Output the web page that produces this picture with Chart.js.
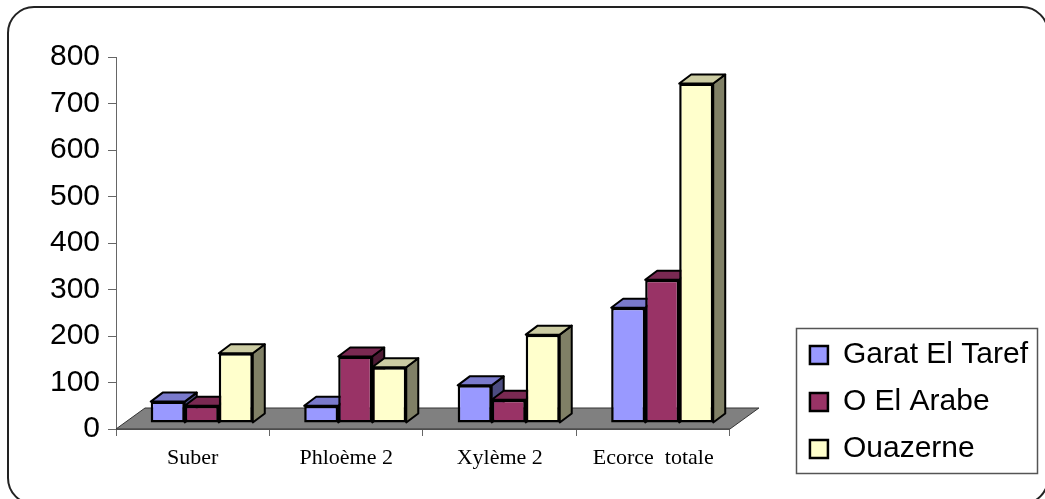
<!DOCTYPE html>
<html>
<head>
<meta charset="utf-8">
<script src="https://cdn.jsdelivr.net/npm/chart.js@4.4.1/dist/chart.umd.min.js"></script>
<style>
  html, body { margin: 0; padding: 0; background: #ffffff; }
  canvas { display: block; }
</style>
</head>
<body>
<canvas id="chart" width="1045" height="499"></canvas>
<script>
// Tissue categories and the three sampling sites
const categories = ['Suber', 'Phloème 2', 'Xylème 2', 'Ecorce  totale'];
const seriesNames = ['Garat El Taref', 'O El Arabe', 'Ouazerne'];
const garatElTaref = [46, 37, 81, 248];
const oElArabe = [37, 143, 50, 308];
const ouazerne = [150, 120, 190, 730];
const valueMin = 0;
const valueMax = 800;
const valueStep = 100;

// Face colours: front, lit top, shaded side
const frontColors = ['#9999FF', '#993366', '#FFFFCC'];
const topColors = ['#7A7ACC', '#7A2952', '#CCCCA3'];
const sideColors = ['#4C4C80', '#4D1A33', '#808066'];

// Oblique projection used for the 3D look
const FLOOR_DX = 29, FLOOR_DY = 21;   // depth of the floor
const BAR_DX = 12, BAR_DY = 9;        // depth of each column
const BAR_SHIFT = 9, BAR_LIFT = 6;    // columns stand mid-depth on the floor

function polygon(ctx, pts, fill) {
  ctx.beginPath();
  ctx.moveTo(pts[0][0], pts[0][1]);
  for (let i = 1; i < pts.length; i++) ctx.lineTo(pts[i][0], pts[i][1]);
  ctx.closePath();
  ctx.fillStyle = fill;
  ctx.fill();
  ctx.stroke();
}

const frame = {
  id: 'frame',
  afterDraw(chart) {
    const ctx = chart.ctx;
    ctx.save();
    ctx.strokeStyle = '#222';
    ctx.lineWidth = 2;
    ctx.beginPath();
    ctx.roundRect(8, 7, 1040, 497, 26);
    ctx.stroke();
    // border round the legend
    const hb = chart.legend.legendHitBoxes;
    if (hb && hb.length) {
      const l = Math.min(...hb.map(h => h.left)) - 14;
      const t = Math.min(...hb.map(h => h.top)) - 12;
      const r = Math.max(...hb.map(h => h.left + h.width)) + 9;
      const b = Math.max(...hb.map(h => h.top + h.height)) + 9;
      ctx.strokeStyle = '#555';
      ctx.lineWidth = 1.5;
      ctx.strokeRect(Math.round(l) + 0.5, Math.round(t) + 0.5, Math.round(r - l), Math.round(b - t));
    }
    ctx.restore();
  }
};

const depth3d = {
  id: 'depth3d',
  beforeDatasetsDraw(chart) {
    const { ctx, chartArea: a } = chart;
    ctx.save();
    ctx.lineWidth = 1;
    ctx.strokeStyle = '#333';
    polygon(ctx, [
      [a.left, a.bottom], [a.right, a.bottom],
      [a.right + FLOOR_DX, a.bottom - FLOOR_DY], [a.left + FLOOR_DX, a.bottom - FLOOR_DY]
    ], '#808080');
    ctx.restore();

    ctx.save();
    ctx.translate(BAR_SHIFT, -BAR_LIFT);
    ctx.lineWidth = 2;
    ctx.strokeStyle = '#000';
    ctx.lineJoin = 'round';
    chart.data.datasets.forEach((ds, di) => {
      chart.getDatasetMeta(di).data.forEach(bar => {
        const { x, y, base, width } = bar.getProps(['x', 'y', 'base', 'width'], true);
        const x0 = x - width / 2, x1 = x + width / 2;
        polygon(ctx, [[x1, y], [x1 + BAR_DX, y - BAR_DY], [x1 + BAR_DX, base - BAR_DY], [x1, base]], sideColors[di]);
        polygon(ctx, [[x0, y], [x1, y], [x1 + BAR_DX, y - BAR_DY], [x0 + BAR_DX, y - BAR_DY]], topColors[di]);
      });
    });
  },
  afterDatasetsDraw(chart) {
    chart.ctx.restore();
  }
};

Chart.defaults.font.family = '"Liberation Sans", Arial, sans-serif';
Chart.defaults.color = '#000';

const seriesValues = [garatElTaref, oElArabe, ouazerne];

new Chart(document.getElementById('chart'), {
  type: 'bar',
  data: {
    labels: categories,
    datasets: seriesNames.map((name, i) => ({
      label: name,
      data: seriesValues[i],
      backgroundColor: frontColors[i],
      borderColor: '#000',
      borderWidth: 2.5,
      borderSkipped: false,
      categoryPercentage: 0.665,
      barPercentage: 1,
      clip: false
    }))
  },
  options: {
    responsive: false,
    animation: false,
    events: [],
    layout: { padding: { top: 57, left: 0, right: 7, bottom: 18 } },
    plugins: {
      tooltip: { enabled: false },
      legend: {
        position: 'right',
        align: 'end',
        maxWidth: 260,
        labels: {
          font: { size: 30 },
          color: '#000',
          boxWidth: 18,
          boxHeight: 18,
          padding: 17
        }
      }
    },
    scales: {
      x: {
        offset: true,
        grid: { offset: true, drawOnChartArea: false, tickLength: 7, color: '#666' },
        border: { color: '#666' },
        ticks: { font: { family: '"Liberation Serif", "Times New Roman", serif', size: 22 }, color: '#000', padding: 9, maxRotation: 0 },
        afterFit: s => { s.height = 52; }
      },
      y: {
        min: valueMin,
        max: valueMax,
        ticks: { stepSize: valueStep, font: { size: 30 }, color: '#000', padding: 8 },
        grid: { drawOnChartArea: false, tickLength: 8, color: '#666' },
        border: { color: '#666' },
        afterFit: s => { s.width = 116; }
      },
      gap: {
        type: 'linear',
        position: 'right',
        grid: { display: false },
        ticks: { display: false },
        border: { display: false },
        afterFit: s => { s.width = 63; }
      }
    }
  },
  plugins: [depth3d, frame]
});
</script>
</body>
</html>
